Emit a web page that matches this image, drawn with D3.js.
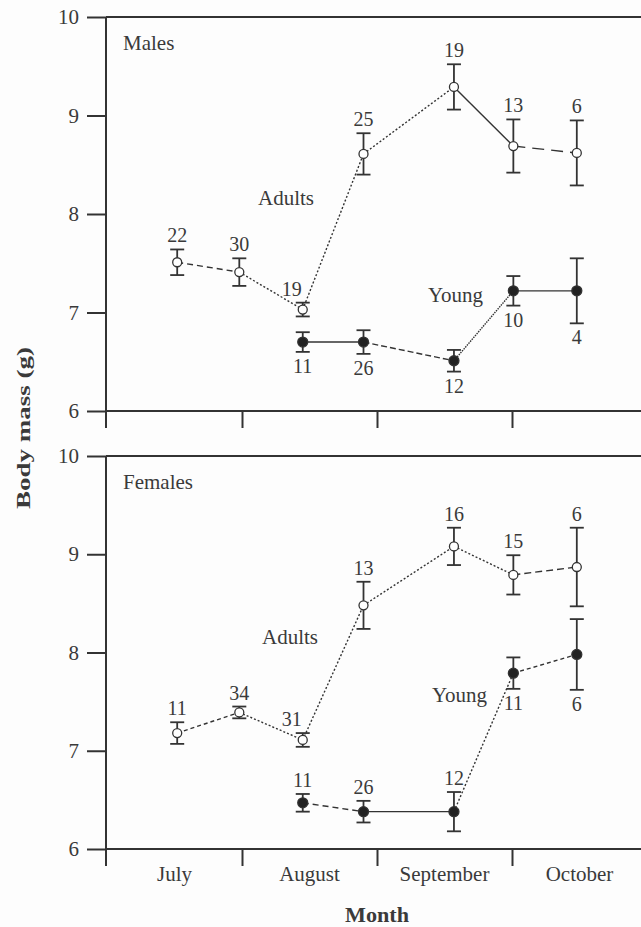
<!DOCTYPE html>
<html>
<head>
<meta charset="utf-8">
<script src="https://cdn.jsdelivr.net/npm/d3@7/dist/d3.min.js"></script>
<style>
  html, body { margin: 0; padding: 0; background: #fdfdfd; }
  svg { display: block; }
  text { font-family: "Liberation Serif", "Times New Roman", serif; fill: #3a3a3a; }
</style>
</head>
<body>
<svg id="chart" width="641" height="927"></svg>
<script>
// Sampling periods, expressed in months from 1 July (0 = start of July)
const months = ["July", "August", "September", "October"];
const yTicks = [6, 7, 8, 9, 10];
const adultPos = [0.52, 0.98, 1.45, 1.9, 2.57, 3.01, 3.48];
const youngPos = [1.45, 1.9, 2.57, 3.01, 3.48];

// Males: mean body mass (g), standard error, sample size
const maleAdultMean = [7.51, 7.41, 7.03, 8.61, 9.29, 8.69, 8.62];
const maleAdultSE   = [0.13, 0.14, 0.07, 0.21, 0.23, 0.27, 0.33];
const maleAdultN    = [22, 30, 19, 25, 19, 13, 6];
const maleYoungMean = [6.70, 6.70, 6.51, 7.22, 7.22];
const maleYoungSE   = [0.10, 0.12, 0.11, 0.15, 0.33];
const maleYoungN    = [11, 26, 12, 10, 4];

// Females
const femaleAdultMean = [7.18, 7.39, 7.11, 8.48, 9.08, 8.79, 8.87];
const femaleAdultSE   = [0.11, 0.06, 0.07, 0.24, 0.19, 0.20, 0.40];
const femaleAdultN    = [11, 34, 31, 13, 16, 15, 6];
const femaleYoungMean = [6.47, 6.38, 6.38, 7.79, 7.98];
const femaleYoungSE   = [0.09, 0.11, 0.20, 0.16, 0.36];
const femaleYoungN    = [11, 26, 12, 11, 6];

// Where each sample-size label sits relative to its error bar
const maleAdultSide   = ["up", "up", "upleft", "up", "up", "up", "up"];
const maleYoungSide   = ["down", "down", "down", "down", "down"];
const femaleAdultSide = ["up", "up", "upleft", "up", "up", "up", "up"];
const femaleYoungSide = ["up", "up", "up", "down", "down"];

// Dash pattern of each connecting segment
const maleAdultDash   = ["6,4", "2,2", "2,2", "2,2", null, "12,7"];
const maleYoungDash   = [null, "6,3", "1.5,1", null];
const femaleAdultDash = ["4,3", "2,2", "2,2", "2,2", "2,2", "7,4"];
const femaleYoungDash = ["6,4", null, "2,2", "4,3"];

const W = 641;
const axisX = 106, tickLen = 19;
const ink = "#333";

const svg = d3.select("#chart");

const x = d3.scaleLinear().domain([0, 4]).range([axisX + 1, 647]);

const panels = [
  { title: "Males", top: 17, bottom: 411,
    adult: { pos: adultPos, mean: maleAdultMean, se: maleAdultSE, n: maleAdultN, side: maleAdultSide, dash: maleAdultDash },
    young: { pos: youngPos, mean: maleYoungMean, se: maleYoungSE, n: maleYoungN, side: maleYoungSide, dash: maleYoungDash },
    adultLabel: [258, 205], youngLabel: [428, 302] },
  { title: "Females", top: 456, bottom: 849,
    adult: { pos: adultPos, mean: femaleAdultMean, se: femaleAdultSE, n: femaleAdultN, side: femaleAdultSide, dash: femaleAdultDash },
    young: { pos: youngPos, mean: femaleYoungMean, se: femaleYoungSE, n: femaleYoungN, side: femaleYoungSide, dash: femaleYoungDash },
    adultLabel: [262, 644], youngLabel: [432, 702] }
];

panels.forEach((p, pi) => {
  const y = d3.scaleLinear().domain([6, 10]).range([p.bottom, p.top]);
  const g = svg.append("g");

  // frame: top and bottom rules running off the right edge
  [10, 6].forEach(v => {
    g.append("line")
      .attr("x1", axisX).attr("x2", W)
      .attr("y1", y(v)).attr("y2", y(v))
      .attr("stroke", ink).attr("stroke-width", 2);
  });

  // y axis
  const ya = d3.axisLeft(y).tickValues(yTicks).tickFormat(d3.format("d"))
    .tickSize(tickLen).tickPadding(8).tickSizeOuter(0);
  const yg = g.append("g").attr("transform", `translate(${axisX},0)`).call(ya);
  yg.select(".domain").remove();
  yg.selectAll(".tick line").attr("stroke", ink).attr("stroke-width", 2);
  yg.selectAll(".tick text")
    .style("font-family", "Liberation Serif, serif")
    .style("font-size", "21px").attr("fill", "#444");

  // vertical axis line, continued down as the first month tick
  g.append("line")
    .attr("x1", axisX).attr("x2", axisX)
    .attr("y1", y(10)).attr("y2", y(6) + 17)
    .attr("stroke", ink).attr("stroke-width", 2);

  // x axis month boundary ticks
  const xa = d3.axisBottom(x).tickValues([1, 2, 3]).tickSize(17).tickSizeOuter(0).tickFormat("");
  const xg = g.append("g").attr("transform", `translate(0,${y(6)})`).call(xa);
  xg.select(".domain").remove();
  xg.selectAll(".tick line").attr("stroke", ink).attr("stroke-width", 2);

  if (pi === 1) {
    g.selectAll(".month").data(months).join("text")
      .attr("class", "month")
      .attr("x", (d, i) => x(i + 0.5))
      .attr("y", y(6) + 32)
      .attr("text-anchor", "middle")
      .style("font-size", "21px")
      .text(d => d);
  }

  // panel title
  g.append("text").attr("x", 123).attr("y", y(10) + 33)
    .style("font-size", "21px").text(p.title);

  // series
  const drawSeries = (s, filled) => {
    const pts = s.mean.map((m, i) => ({ x: x(s.pos[i]), m, se: s.se[i], n: s.n[i], side: s.side[i] }));

    // connecting segments
    for (let i = 0; i < pts.length - 1; i++) {
      g.append("line")
        .attr("x1", pts[i].x).attr("y1", y(pts[i].m))
        .attr("x2", pts[i + 1].x).attr("y2", y(pts[i + 1].m))
        .attr("stroke", ink).attr("stroke-width", 1.4)
        .attr("stroke-dasharray", s.dash[i]);
    }

    // error bars
    const eb = g.append("g").selectAll("g").data(pts).join("g");
    eb.append("line")
      .attr("x1", d => d.x).attr("x2", d => d.x)
      .attr("y1", d => y(d.m + d.se)).attr("y2", d => y(d.m - d.se))
      .attr("stroke", ink).attr("stroke-width", 1.8);
    [1, -1].forEach(sgn => {
      eb.append("line")
        .attr("x1", d => d.x - 7).attr("x2", d => d.x + 7)
        .attr("y1", d => y(d.m + sgn * d.se)).attr("y2", d => y(d.m + sgn * d.se))
        .attr("stroke", ink).attr("stroke-width", 1.8);
    });

    // markers
    g.append("g").selectAll("circle").data(pts).join("circle")
      .attr("cx", d => d.x).attr("cy", d => y(d.m))
      .attr("r", filled ? 5 : 4.5)
      .attr("fill", filled ? "#222" : "#fff")
      .attr("stroke", ink).attr("stroke-width", 1.3);

    // sample sizes
    g.append("g").selectAll("text").data(pts).join("text")
      .attr("x", d => d.side === "upleft" ? d.x - 11 : d.x)
      .attr("y", d => d.side === "down" ? y(d.m - d.se) + 21 : y(d.m + d.se) - 7)
      .attr("text-anchor", "middle")
      .style("font-size", "20px")
      .text(d => d.n);
  };

  drawSeries(p.adult, false);
  drawSeries(p.young, true);

  g.append("text").attr("x", p.adultLabel[0]).attr("y", p.adultLabel[1])
    .style("font-size", "21px").text("Adults");
  g.append("text").attr("x", p.youngLabel[0]).attr("y", p.youngLabel[1])
    .style("font-size", "21px").text("Young");
});

// axis titles
svg.append("text")
  .attr("transform", "translate(30,428) rotate(-90)")
  .attr("text-anchor", "middle")
  .attr("textLength", 162).attr("lengthAdjust", "spacingAndGlyphs")
  .style("font-size", "19px").style("font-weight", "bold")
  .text("Body mass (g)");

svg.append("text")
  .attr("x", 377).attr("y", 922)
  .attr("text-anchor", "middle")
  .attr("textLength", 64).attr("lengthAdjust", "spacingAndGlyphs")
  .style("font-size", "20px").style("font-weight", "bold")
  .text("Month");
</script>
</body>
</html>
